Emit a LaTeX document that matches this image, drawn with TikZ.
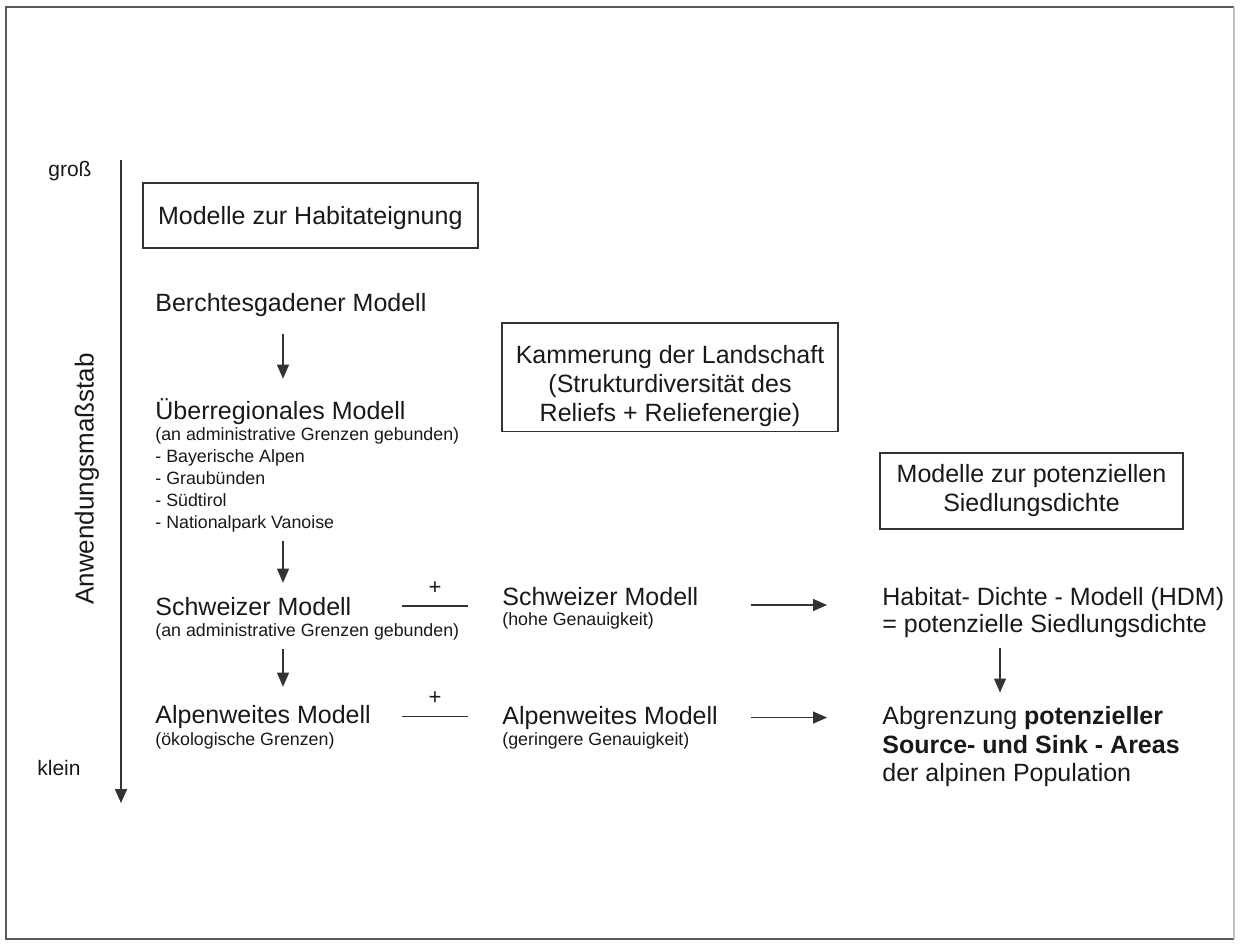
\documentclass[tikz,border=0pt]{standalone}
\usepackage{fontspec}
\setmainfont{Liberation Sans}
\usetikzlibrary{arrows.meta}

\begin{document}
\begin{tikzpicture}[x=0.5pt, y=-0.5pt,
    every node/.style={inner sep=0pt, text=black!90},
    big/.style={font=\fontsize{12.5}{14.5}\selectfont, anchor=base west},
    small/.style={font=\fontsize{8.9}{11}\selectfont, anchor=base west},
    scalelabel/.style={font=\fontsize{10.5}{12}\selectfont, anchor=base west},
    box/.style={draw=black!80, line width=0.8pt, font=\fontsize{12.5}{14.5}\selectfont, align=center},
    arr/.style={->, >={Triangle[length=7pt, width=6pt]}, draw=black!80, line width=0.65pt},
    plusline/.style={draw=black!80, line width=0.65pt}
]
    % Definitions
    \useasboundingbox (0,0) rectangle (1240,944);
    \coordinate (axtop) at (121,160);
    \coordinate (axbot) at (121,803);
    \coordinate (downx) at (283,0);
    \coordinate (hdmx) at (1000,0);
    \coordinate (plusA) at (402,0);
    \coordinate (plusB) at (468,0);
    % Frame
    \draw[black!65, line width=1pt] (1234,7) -- (6,7) -- (6,939) -- (1234,939);
    \draw[black!25, line width=0.8pt] (1234,7) -- (1234,939);
    %%%
    %%% Scale axis
    %%%
    \draw[arr, line width=0.9pt] (axtop) -- (axbot);
    \node[scalelabel] (gross) at (48,176) {groß};
    \node[scalelabel] (klein) at (37,775) {klein};
    \node[font=\fontsize{13}{15}\selectfont, rotate=90] (massstab) at (87,479) {Anwendungsmaßstab};
    %%%
    %%% Habitat models
    %%%
    \node[box, anchor=north west, minimum width=167.5pt, minimum height=32.5pt, text height=9pt, text depth=0pt] (habitat) at (142,182) {Modelle zur Habitateignung};
    \node[big] (berch) at (155,311) {Berchtesgadener Modell};
    \node[big] (ueber) at (155,419) {Überregionales Modell};
    \node[small] (ueberSub) at (155,440) {(an administrative Grenzen gebunden)};
    \foreach \region [count=\i] in {Bayerische Alpen, Graubünden, Südtirol, Nationalpark Vanoise}
    {
        \node[small] (region\i) at (155,440+22*\i) {- \region};
    }
    \node[big] (schwL) at (155,615) {Schweizer Modell};
    \node[small] (schwLsub) at (155,636) {(an administrative Grenzen gebunden)};
    \node[big] (alpL) at (155,723) {Alpenweites Modell};
    \node[small] (alpLsub) at (155,745) {(ökologische Grenzen)};
    % Downward arrows
    \draw[arr, shorten <=8.5pt, shorten >=9.5pt] (berch.south -| downx) -- (ueber.north -| downx);
    \draw[arr, shorten <=4.6pt, shorten >=6.9pt] (region4.south -| downx) -- (schwL.north -| downx);
    \draw[arr, shorten <=4.2pt, shorten >=8.9pt] (schwLsub.south -| downx) -- (alpL.north -| downx);
    %%%
    %%% Relief
    %%%
    \node[box, anchor=north, minimum width=168pt, inner ysep=2.4pt] (kammer) at (670,322) {\rule{0pt}{18pt}Kammerung der Landschaft\\(Strukturdiversität des\\Reliefs + Reliefenergie)};
    \node[big] (schwM) at (502,605) {Schweizer Modell};
    \node[small] (schwMsub) at (502,625) {(hohe Genauigkeit)};
    \node[big] (alpM) at (502,724) {Alpenweites Modell};
    \node[small] (alpMsub) at (502,745) {(geringere Genauigkeit)};
    % Plus lines
    \draw[plusline] (schwL.east -| plusA) -- node[above=5.5pt, font=\fontsize{11}{12}\selectfont] (plus1) {+} (schwL.east -| plusB);
    \draw[plusline] (alpL.east -| plusA) -- node[above=5.5pt, font=\fontsize{11}{12}\selectfont] (plus2) {+} (alpL.east -| plusB);
    %%%
    %%% Settlement density
    %%%
    \node[box, anchor=north, minimum width=151.5pt, inner ysep=6pt] (dichte) at (1031.5,452) {Modelle zur potenziellen\\Siedlungsdichte};
    \node[big] (hdm) at (882,605) {Habitat- Dichte - Modell (HDM)};
    \node[big] (hdmSub) at (882,632) {= potenzielle Siedlungsdichte};
    \node[big] (abgr) at (882,724) {Abgrenzung \textbf{potenzieller}};
    \node[big] (source) at (882,753) {\textbf{Source- und Sink - Areas}};
    \node[big] (alpine) at (882,781) {der alpinen Population};
    % Arrows to the right
    \draw[arr, shorten <=26pt, shorten >=27.5pt] (schwM.base east) -- (hdm.base west);
    \draw[arr, shorten <=16.5pt, shorten >=27.5pt] (alpM.east) -- (abgr.west);
    \draw[arr, shorten <=5pt, shorten >=6.5pt] (hdmSub.south -| hdmx) -- (abgr.north -| hdmx);
\end{tikzpicture}
\end{document}
